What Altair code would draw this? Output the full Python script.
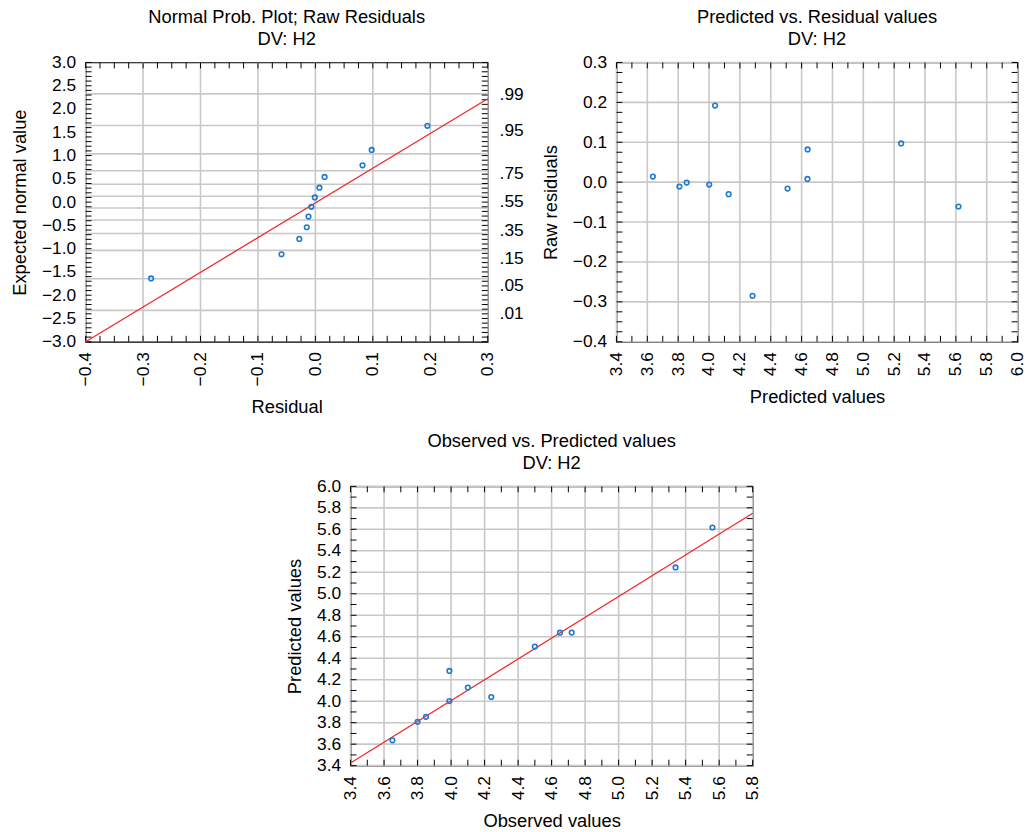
import altair as alt
import numpy as np
import pandas as pd

# ---------------- data ----------------
observed = [3.65, 3.80, 3.85, 3.99, 3.99, 4.10, 4.24, 4.50, 4.65, 4.72, 5.34, 5.56]
predicted = [3.636, 3.808, 3.855, 4.001, 4.282, 4.127, 4.039, 4.509, 4.638, 4.639, 5.245, 5.617]
raw_residuals = [0.014, -0.011, -0.001, -0.006, -0.285, -0.030, 0.192, -0.016, 0.008, 0.082, 0.097, -0.061]

normal_residual = [-0.286, -0.059, -0.028, -0.015, -0.012, -0.007, -0.001, 0.007, 0.016, 0.082, 0.098, 0.195]
expected_normal = [-1.64, -1.12, -0.79, -0.54, -0.31, -0.10, 0.10, 0.31, 0.54, 0.79, 1.12, 1.64]

normal_line_x = [-0.4, 0.3]
normal_line_y = [-3.0, 2.22]
obs_line_x = [3.4, 5.8]
obs_line_y = [3.425, 5.75]

prob_labels = [".99", ".95", ".75", ".55", ".35", ".15", ".05", ".01"]
prob_label_pos = [2.30, 1.53, 0.61, 0.0, -0.62, -1.22, -1.81, -2.41]
prob_grid = [-2.326, -1.645, -1.036, -0.674, -0.385, -0.126, 0.126, 0.385, 0.674, 1.036, 1.645, 2.326]

FONT = "Liberation Sans"
LFS = 17.5   # tick labels
TFS = 18.5   # titles
GRID = "#c8c8c8"
BLUE = "#1f7bcf"
RED = "#ee2b2b"
TICK = 6


def rng(a, b, step):
    n = int(round((b - a) / step))
    return [round(a + i * step, 4) for i in range(n + 1)]


def panel(title, xtitle, ytitle, xdom, ydom, xlab, ylab, xgrid, ygrid,
          xminor, yminor, pts, line=None, W=406, H=282, extra=None):
    xs = alt.Scale(domain=xdom, nice=False, zero=False)
    ys = alt.Scale(domain=ydom, nice=False, zero=False)
    xa = alt.Axis(values=xlab, format=".1f", labelAngle=-90, ticks=False, domain=False,
                  grid=False, title=xtitle, labelPadding=10, titlePadding=12,
                  labelFlush=False, labelOverlap=False)
    ya = alt.Axis(values=ylab, format=".1f", ticks=False, domain=False, grid=False,
                  title=ytitle, labelPadding=10, titlePadding=12,
                  labelFlush=False, labelOverlap=False)

    def X(f):
        return alt.X(f, scale=xs, axis=xa, title=xtitle)

    def Y(f):
        return alt.Y(f, scale=ys, axis=ya, title=ytitle)

    layers = []
    gx = pd.DataFrame({"v": xgrid})
    gy = pd.DataFrame({"v": ygrid})
    layers.append(alt.Chart(gx).mark_rule(color=GRID, strokeWidth=1.6).encode(x=X("v:Q")))
    layers.append(alt.Chart(gy).mark_rule(color=GRID, strokeWidth=1.6).encode(y=Y("v:Q")))
    mx = pd.DataFrame({"v": xminor})
    my = pd.DataFrame({"v": yminor})
    layers.append(alt.Chart(mx).mark_rule(color="black", strokeWidth=1).encode(
        x=X("v:Q"), y=alt.value(0), y2=alt.value(TICK)))
    layers.append(alt.Chart(mx).mark_rule(color="black", strokeWidth=1).encode(
        x=X("v:Q"), y=alt.value(H - TICK), y2=alt.value(H)))
    layers.append(alt.Chart(my).mark_rule(color="black", strokeWidth=1).encode(
        y=Y("v:Q"), x=alt.value(0), x2=alt.value(TICK)))
    layers.append(alt.Chart(my).mark_rule(color="black", strokeWidth=1).encode(
        y=Y("v:Q"), x=alt.value(W - TICK), x2=alt.value(W)))
    if line is not None:
        layers.append(alt.Chart(line).mark_line(color=RED, strokeWidth=1.3).encode(
            x=X("x:Q"), y=Y("y:Q")))
    if extra is not None:
        layers.append(extra(Y, W))
    layers.append(alt.Chart(pts).mark_point(shape="circle", filled=False, size=22,
                                            strokeWidth=1.6, color=BLUE, opacity=1).encode(
        x=X("x:Q"), y=Y("y:Q")))
    return alt.layer(*layers).properties(
        width=W, height=H,
        title=alt.TitleParams(title, fontSize=TFS, font=FONT, fontWeight="normal",
                              color="black", lineHeight=22, offset=5))


# Panel 1: normal probability plot
p1_pts = pd.DataFrame({"x": normal_residual, "y": expected_normal})
p1_line = pd.DataFrame({"x": normal_line_x, "y": normal_line_y})


def prob_text(Y, W):
    df = pd.DataFrame({"y": prob_label_pos, "lab": prob_labels})
    return alt.Chart(df).mark_text(align="left", baseline="middle", font=FONT,
                                   fontSize=LFS, color="black").encode(
        y=Y("y:Q"), x=alt.value(W + 12), text="lab:N")


p1 = panel(["Normal Prob. Plot; Raw Residuals", "DV: H2"], "Residual", "Expected normal value",
           [-0.4, 0.3], [-3.0, 3.0], rng(-0.4, 0.3, 0.1), rng(-3.0, 3.0, 0.5),
           rng(-0.4, 0.3, 0.1), prob_grid, rng(-0.4, 0.3, 0.025), rng(-3.0, 3.0, 0.1),
           p1_pts, p1_line, extra=prob_text)

# Panel 2: predicted vs residual
p2_pts = pd.DataFrame({"x": predicted, "y": raw_residuals})
p2 = panel(["Predicted vs. Residual values", "DV: H2"], "Predicted values", "Raw residuals",
           [3.4, 6.0], [-0.4, 0.3], rng(3.4, 6.0, 0.2), rng(-0.4, 0.3, 0.1),
           rng(3.4, 6.0, 0.2), rng(-0.4, 0.3, 0.1), rng(3.4, 6.0, 0.1), rng(-0.4, 0.3, 0.025),
           p2_pts, W=405)

# Panel 3: observed vs predicted
p3_pts = pd.DataFrame({"x": observed, "y": predicted})
p3_line = pd.DataFrame({"x": obs_line_x, "y": obs_line_y})
p3 = panel(["Observed vs. Predicted values", "DV: H2"], "Observed values", "Predicted values",
           [3.4, 5.8], [3.4, 6.0], rng(3.4, 5.8, 0.2), rng(3.4, 6.0, 0.2),
           rng(3.4, 5.8, 0.2), rng(3.4, 6.0, 0.2), rng(3.4, 5.8, 0.1), rng(3.4, 6.0, 0.1),
           p3_pts, p3_line)

top = alt.hconcat(p1, p2, spacing=16)
chart = alt.vconcat(top, p3, spacing=14, center=True, background="white").properties(
    padding={"left": 10, "top": 3, "right": 5, "bottom": 5}
).configure_view(stroke="black", strokeWidth=1.2).configure_axis(
    labelFont=FONT, labelFontSize=LFS, labelColor="black",
    titleFont=FONT, titleFontSize=TFS, titleFontWeight="normal", titleColor="black"
)

chart.save("out.html", embed_options={"renderer": "svg", "actions": False})
